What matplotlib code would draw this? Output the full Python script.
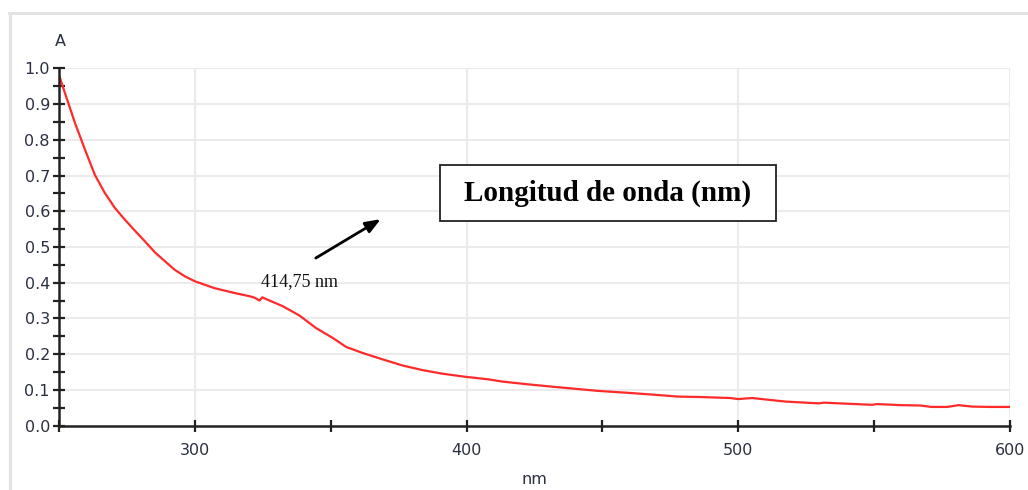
import matplotlib
matplotlib.use("Agg")
import matplotlib.pyplot as plt
from matplotlib.patches import Rectangle
from matplotlib.lines import Line2D

# ---- data ----
wavelength = [250, 252.2, 255.9, 259.6, 263.2, 266.9, 270.6, 274.3, 277.9, 281.6,
              285.3, 289.0, 292.6, 296.3, 300.0, 307.1, 314.7, 320.2, 322.0, 323.8,
              324.8, 327.5, 332.4, 338.5, 344.6, 350.8, 355.7, 361.8, 369.2, 376.5,
              383.9, 391.2, 400.0, 408.3, 413.2, 423.0, 434.0, 448.3, 460.5, 472.9,
              477.7, 485.0, 493.0, 497.0, 500.0, 505.0, 517.4, 529.6, 531.5, 540.0,
              549.2, 551.0, 560.0, 567.0, 571.2, 577.0, 581.0, 586.0, 592.0, 600.0]
absorbance = [0.982, 0.931, 0.847, 0.772, 0.702, 0.651, 0.609, 0.576, 0.546, 0.516,
              0.485, 0.460, 0.436, 0.418, 0.404, 0.385, 0.371, 0.362, 0.358, 0.350,
              0.359, 0.350, 0.334, 0.308, 0.273, 0.245, 0.220, 0.203, 0.185, 0.168,
              0.155, 0.145, 0.136, 0.129, 0.123, 0.115, 0.107, 0.097, 0.091, 0.084,
              0.081, 0.080, 0.078, 0.077, 0.074, 0.077, 0.067, 0.062, 0.064, 0.061,
              0.058, 0.060, 0.057, 0.056, 0.052, 0.052, 0.057, 0.053, 0.052, 0.052]

x_major = [250, 300, 350, 400, 450, 500, 550, 600]
x_labels = ["", "300", "", "400", "", "500", "", "600"]
y_major = [0.0, 0.1, 0.2, 0.3, 0.4, 0.5, 0.6, 0.7, 0.8, 0.9, 1.0]
y_minor = [0.05, 0.15, 0.25, 0.35, 0.45, 0.55, 0.65, 0.75, 0.85, 0.95]
grid_x = [300, 400, 500, 600]

annot_text = "414,75 nm"
box_text = "Longitud de onda (nm)"

# ---- figure ----
W, H = 1028, 490
fig = plt.figure(figsize=(W / 100, H / 100), dpi=100)
fig.patch.set_facecolor("white")

# outer light frame
fig.add_artist(Line2D([9 / W, 1.0], [1 - 13.5 / H, 1 - 13.5 / H], color="#e3e3e3", lw=2.2))
fig.add_artist(Line2D([9.5 / W, 9.5 / W], [0, 1 - 13.5 / H], color="#e3e3e3", lw=2.2))

left, right = 59 / W, 1010 / W
bottom, top = 1 - 425.5 / H, 1 - 68.5 / H
ax = fig.add_axes([left, bottom, right - left, top - bottom])

ax.plot(wavelength, absorbance, color="#ff2a2a", lw=1.6, zorder=3)

ax.set_xlim(250, 600)
ax.set_ylim(0, 1.0)

# grid
for gx in grid_x:
    ax.axvline(gx, color="#ebebeb", lw=1.5, zorder=0)
for gy in y_major[1:]:
    ax.axhline(gy, color="#ebebeb", lw=1.5, zorder=0)

for s in ["top", "right"]:
    ax.spines[s].set_visible(False)
for s in ["left", "bottom"]:
    ax.spines[s].set_color("#222222")
    ax.spines[s].set_linewidth(1.8)
    ax.spines[s].set_zorder(4)

lab_color = "#2a3040"
lab_font = "DejaVu Sans"
ax.set_xticks(x_major)
ax.set_xticklabels(x_labels)
ax.set_yticks(y_major)
ax.set_yticklabels([f"{v:.1f}" for v in y_major])
ax.set_yticks(y_minor, minor=True)
ax.tick_params(axis="both", which="both", direction="inout", color="#222222", width=1.6,
               labelcolor=lab_color, labelsize=11.5)
ax.tick_params(axis="y", which="major", length=9, pad=2)
ax.tick_params(axis="y", which="minor", length=9)
ax.tick_params(axis="x", which="major", length=9, pad=8)
for t in ax.get_xticklabels() + ax.get_yticklabels():
    t.set_fontfamily(lab_font)

ax.set_xlabel("nm", fontsize=11.5, color=lab_color, family=lab_font, labelpad=10)
ax.text(0.001, 1 + 19 / (425.5 - 68.5), "A", transform=ax.transAxes, fontsize=11.5,
        color=lab_color, family=lab_font, ha="center", va="bottom")

# annotation
ax.annotate("", xy=(368.4, 0.578), xytext=(344.5, 0.469),
            arrowprops=dict(arrowstyle="-|>,head_length=0.9,head_width=0.35",
                            color="black", lw=2.0, shrinkA=0, shrinkB=0), zorder=5)
ax.text(324.4, 0.403, annot_text, family="Liberation Serif", fontsize=13,
        color="#111111", ha="left", va="center", zorder=5)

# boxed label
bx0, bx1 = 390.1, 514.0
by0, by1 = 0.573, 0.730
ax.add_patch(Rectangle((bx0, by0), bx1 - bx0, by1 - by0, facecolor="white",
                       edgecolor="#222222", lw=1.3, zorder=5))
ax.text((bx0 + bx1) / 2, (by0 + by1) / 2 + 0.0, box_text, family="Liberation Serif",
        fontweight="bold", fontsize=21, color="black", ha="center", va="center", zorder=6)

fig.savefig("out.png", dpi=100, facecolor="white")
